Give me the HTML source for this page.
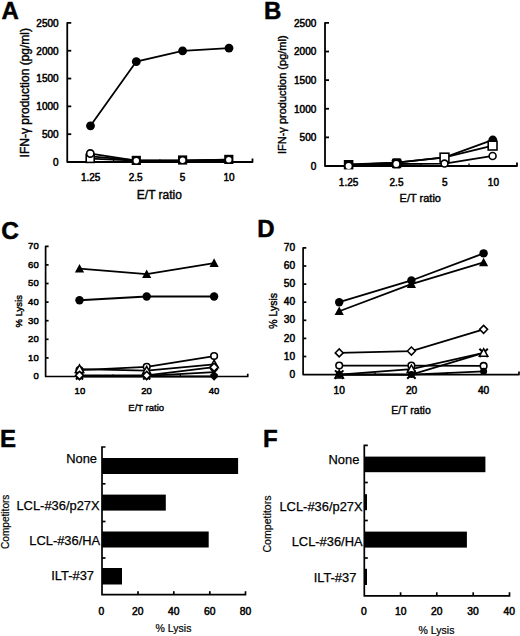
<!DOCTYPE html>
<html><head><meta charset="utf-8"><style>
html,body{margin:0;padding:0;background:#fff;}
body{width:520px;height:636px;overflow:hidden;}
svg{display:block;font-family:"Liberation Sans", sans-serif;}
</style></head><body>
<svg width="520" height="636" viewBox="0 0 520 636">
<rect width="520" height="636" fill="#fff"/>
<g stroke="#000" fill="#000" stroke-linecap="butt" stroke-linejoin="round">
<path d="M71.25,22.90H67.25V162.00H252.50V158.50" fill="none" stroke-width="1.8"/>
<text x="58.60" y="165.90" font-size="10" text-anchor="end" stroke="#000" stroke-width="0.5">0</text>
<line x1="67.25" y1="134.18" x2="71.25" y2="134.18" stroke-width="1.8"/>
<text x="58.60" y="138.08" font-size="10" text-anchor="end" stroke="#000" stroke-width="0.5">500</text>
<line x1="67.25" y1="106.36" x2="71.25" y2="106.36" stroke-width="1.8"/>
<text x="58.60" y="110.26" font-size="10" text-anchor="end" stroke="#000" stroke-width="0.5">1000</text>
<line x1="67.25" y1="78.54" x2="71.25" y2="78.54" stroke-width="1.8"/>
<text x="58.60" y="82.44" font-size="10" text-anchor="end" stroke="#000" stroke-width="0.5">1500</text>
<line x1="67.25" y1="50.72" x2="71.25" y2="50.72" stroke-width="1.8"/>
<text x="58.60" y="54.62" font-size="10" text-anchor="end" stroke="#000" stroke-width="0.5">2000</text>
<text x="58.60" y="26.80" font-size="10" text-anchor="end" stroke="#000" stroke-width="0.5">2500</text>
<line x1="113.56" y1="162.00" x2="113.56" y2="159.38" stroke-width="1.3"/>
<line x1="159.88" y1="162.00" x2="159.88" y2="159.38" stroke-width="1.3"/>
<line x1="206.19" y1="162.00" x2="206.19" y2="159.38" stroke-width="1.3"/>
<text x="90.70" y="181.30" font-size="10" text-anchor="middle" stroke="#000" stroke-width="0.5">1.25</text>
<text x="135.60" y="181.30" font-size="10" text-anchor="middle" stroke="#000" stroke-width="0.5">2.5</text>
<text x="182.60" y="181.30" font-size="10" text-anchor="middle" stroke="#000" stroke-width="0.5">5</text>
<text x="229.10" y="181.30" font-size="10" text-anchor="middle" stroke="#000" stroke-width="0.5">10</text>
<text x="159.40" y="198.50" font-size="12" text-anchor="middle" stroke="#000" stroke-width="0.4">E/T ratio</text>
<text x="28.60" y="92.70" font-size="12" text-anchor="middle" transform="rotate(-90 28.60 92.70)" stroke="#000" stroke-width="0.4">IFN-γ production (pg/ml)</text>
<text x="1.50" y="18.60" font-size="24" text-anchor="start" font-weight="bold" stroke="#000" stroke-width="0.5">A</text>
<path d="M329.00,22.90H325.00V166.00H517.00V162.50" fill="none" stroke-width="1.8"/>
<text x="316.30" y="169.80" font-size="10" text-anchor="end" stroke="#000" stroke-width="0.5">0</text>
<line x1="325.00" y1="137.38" x2="329.00" y2="137.38" stroke-width="1.8"/>
<text x="316.30" y="141.18" font-size="10" text-anchor="end" stroke="#000" stroke-width="0.5">500</text>
<line x1="325.00" y1="108.76" x2="329.00" y2="108.76" stroke-width="1.8"/>
<text x="316.30" y="112.56" font-size="10" text-anchor="end" stroke="#000" stroke-width="0.5">1000</text>
<line x1="325.00" y1="80.14" x2="329.00" y2="80.14" stroke-width="1.8"/>
<text x="316.30" y="83.94" font-size="10" text-anchor="end" stroke="#000" stroke-width="0.5">1500</text>
<line x1="325.00" y1="51.52" x2="329.00" y2="51.52" stroke-width="1.8"/>
<text x="316.30" y="55.32" font-size="10" text-anchor="end" stroke="#000" stroke-width="0.5">2000</text>
<text x="316.30" y="26.70" font-size="10" text-anchor="end" stroke="#000" stroke-width="0.5">2500</text>
<line x1="373.00" y1="166.00" x2="373.00" y2="163.38" stroke-width="1.3"/>
<line x1="421.00" y1="166.00" x2="421.00" y2="163.38" stroke-width="1.3"/>
<line x1="469.00" y1="166.00" x2="469.00" y2="163.38" stroke-width="1.3"/>
<text x="348.60" y="185.50" font-size="10" text-anchor="middle" stroke="#000" stroke-width="0.5">1.25</text>
<text x="396.50" y="185.50" font-size="10" text-anchor="middle" stroke="#000" stroke-width="0.5">2.5</text>
<text x="444.90" y="185.50" font-size="10" text-anchor="middle" stroke="#000" stroke-width="0.5">5</text>
<text x="493.40" y="185.50" font-size="10" text-anchor="middle" stroke="#000" stroke-width="0.5">10</text>
<text x="420.30" y="202.40" font-size="11" text-anchor="middle" stroke="#000" stroke-width="0.4">E/T ratio</text>
<text x="285.70" y="94.70" font-size="11" text-anchor="middle" transform="rotate(-90 285.70 94.70)" stroke="#000" stroke-width="0.4">IFN-γ production (pg/ml)</text>
<text x="264.00" y="18.60" font-size="24" text-anchor="start" font-weight="bold" stroke="#000" stroke-width="0.5">B</text>
<path d="M48.60,246.30H45.60V376.50H247.75V373.70" fill="none" stroke-width="1.7"/>
<text x="38.70" y="379.30" font-size="9.5" text-anchor="end" stroke="#000" stroke-width="0.5">0</text>
<line x1="45.60" y1="357.90" x2="48.60" y2="357.90" stroke-width="1.7"/>
<text x="38.70" y="360.70" font-size="9.5" text-anchor="end" stroke="#000" stroke-width="0.5">10</text>
<line x1="45.60" y1="339.30" x2="48.60" y2="339.30" stroke-width="1.7"/>
<text x="38.70" y="342.10" font-size="9.5" text-anchor="end" stroke="#000" stroke-width="0.5">20</text>
<line x1="45.60" y1="320.70" x2="48.60" y2="320.70" stroke-width="1.7"/>
<text x="38.70" y="323.50" font-size="9.5" text-anchor="end" stroke="#000" stroke-width="0.5">30</text>
<line x1="45.60" y1="302.10" x2="48.60" y2="302.10" stroke-width="1.7"/>
<text x="38.70" y="304.90" font-size="9.5" text-anchor="end" stroke="#000" stroke-width="0.5">40</text>
<line x1="45.60" y1="283.50" x2="48.60" y2="283.50" stroke-width="1.7"/>
<text x="38.70" y="286.30" font-size="9.5" text-anchor="end" stroke="#000" stroke-width="0.5">50</text>
<line x1="45.60" y1="264.90" x2="48.60" y2="264.90" stroke-width="1.7"/>
<text x="38.70" y="267.70" font-size="9.5" text-anchor="end" stroke="#000" stroke-width="0.5">60</text>
<text x="38.70" y="249.10" font-size="9.5" text-anchor="end" stroke="#000" stroke-width="0.5">70</text>
<line x1="112.98" y1="376.50" x2="112.98" y2="374.40" stroke-width="1.3"/>
<line x1="180.37" y1="376.50" x2="180.37" y2="374.40" stroke-width="1.3"/>
<text x="79.90" y="393.60" font-size="9.5" text-anchor="middle" stroke="#000" stroke-width="0.5">10</text>
<text x="146.50" y="393.60" font-size="9.5" text-anchor="middle" stroke="#000" stroke-width="0.5">20</text>
<text x="214.00" y="393.60" font-size="9.5" text-anchor="middle" stroke="#000" stroke-width="0.5">40</text>
<text x="146.20" y="410.70" font-size="9.5" text-anchor="middle" stroke="#000" stroke-width="0.4">E/T ratio</text>
<text x="21.80" y="311.20" font-size="9.5" text-anchor="middle" transform="rotate(-90 21.80 311.20)" stroke="#000" stroke-width="0.4">% Lysis</text>
<text x="1.20" y="238.80" font-size="24.5" text-anchor="start" font-weight="bold" stroke="#000" stroke-width="0.5">C</text>
<path d="M306.30,247.90H303.10V374.60H519.00V371.60" fill="none" stroke-width="1.7"/>
<text x="295.20" y="377.70" font-size="10.2" text-anchor="end" stroke="#000" stroke-width="0.5">0</text>
<line x1="303.10" y1="356.50" x2="306.30" y2="356.50" stroke-width="1.7"/>
<text x="295.20" y="359.60" font-size="10.2" text-anchor="end" stroke="#000" stroke-width="0.5">10</text>
<line x1="303.10" y1="338.40" x2="306.30" y2="338.40" stroke-width="1.7"/>
<text x="295.20" y="341.50" font-size="10.2" text-anchor="end" stroke="#000" stroke-width="0.5">20</text>
<line x1="303.10" y1="320.30" x2="306.30" y2="320.30" stroke-width="1.7"/>
<text x="295.20" y="323.40" font-size="10.2" text-anchor="end" stroke="#000" stroke-width="0.5">30</text>
<line x1="303.10" y1="302.20" x2="306.30" y2="302.20" stroke-width="1.7"/>
<text x="295.20" y="305.30" font-size="10.2" text-anchor="end" stroke="#000" stroke-width="0.5">40</text>
<line x1="303.10" y1="284.10" x2="306.30" y2="284.10" stroke-width="1.7"/>
<text x="295.20" y="287.20" font-size="10.2" text-anchor="end" stroke="#000" stroke-width="0.5">50</text>
<line x1="303.10" y1="266.00" x2="306.30" y2="266.00" stroke-width="1.7"/>
<text x="295.20" y="269.10" font-size="10.2" text-anchor="end" stroke="#000" stroke-width="0.5">60</text>
<text x="295.20" y="251.00" font-size="10.2" text-anchor="end" stroke="#000" stroke-width="0.5">70</text>
<line x1="375.07" y1="374.60" x2="375.07" y2="372.35" stroke-width="1.3"/>
<line x1="447.03" y1="374.60" x2="447.03" y2="372.35" stroke-width="1.3"/>
<text x="339.20" y="394.40" font-size="10.2" text-anchor="middle" stroke="#000" stroke-width="0.5">10</text>
<text x="411.60" y="394.40" font-size="10.2" text-anchor="middle" stroke="#000" stroke-width="0.5">20</text>
<text x="483.60" y="394.40" font-size="10.2" text-anchor="middle" stroke="#000" stroke-width="0.5">40</text>
<text x="411.00" y="413.50" font-size="10.5" text-anchor="middle" stroke="#000" stroke-width="0.4">E/T ratio</text>
<text x="277.40" y="310.90" font-size="10.5" text-anchor="middle" transform="rotate(-90 277.40 310.90)" stroke="#000" stroke-width="0.4">% Lysis</text>
<text x="257.30" y="237.30" font-size="24" text-anchor="start" font-weight="bold" stroke="#000" stroke-width="0.5">D</text>
</g>
<g stroke="#000" fill="none">
<polyline points="90.50,156.44 136.30,160.33 182.60,160.33 229.00,159.77" fill="none" stroke-width="1.8"/>
</g>
<g stroke="#000" fill="none">
<polyline points="90.50,158.66 136.30,160.61 182.60,160.61 229.00,159.77" fill="none" stroke-width="1.8"/>
</g>
<g stroke="#000" fill="none">
<polyline points="90.50,153.65 136.30,160.61 182.60,160.89 229.00,160.33" fill="none" stroke-width="1.8"/>
</g>
<g stroke="#000">
<rect x="86.20" y="154.40" width="8.00" height="8.00" fill="#fff" stroke-width="1.6"/>
<circle cx="90.30" cy="153.50" r="3.63" fill="#fff" stroke-width="1.6"/>
<rect x="131.70" y="155.80" width="9.20" height="9.20" fill="#000" stroke="none"/>
<circle cx="136.30" cy="160.70" r="2.70" fill="#fff" stroke="none"/>
<rect x="178.00" y="155.40" width="9.20" height="9.20" fill="#000" stroke="none"/>
<circle cx="182.60" cy="160.30" r="2.70" fill="#fff" stroke="none"/>
<rect x="224.20" y="154.80" width="9.20" height="9.20" fill="#000" stroke="none"/>
<circle cx="228.80" cy="159.70" r="2.70" fill="#fff" stroke="none"/>
</g>
<g stroke="#000" fill="none">
<polyline points="90.50,125.83 136.30,61.57 182.60,50.83 229.00,48.05" fill="none" stroke-width="1.8"/>
</g>
<g stroke="#000">
<circle cx="90.50" cy="125.83" r="4.41" fill="#000" stroke="none"/>
<circle cx="136.30" cy="61.57" r="4.41" fill="#000" stroke="none"/>
<circle cx="182.60" cy="50.83" r="4.41" fill="#000" stroke="none"/>
<circle cx="229.00" cy="48.05" r="4.41" fill="#000" stroke="none"/>
</g>
<g stroke="#000" fill="none">
<polyline points="348.80,164.86 396.60,162.57 444.70,157.41 492.80,139.96" fill="none" stroke-width="1.8"/>
</g>
<g stroke="#000" fill="none">
<polyline points="348.80,164.28 396.60,162.57 444.70,157.41 492.80,145.57" fill="none" stroke-width="1.8"/>
</g>
<g stroke="#000" fill="none">
<polyline points="348.80,165.71 396.60,164.00 444.70,163.71 492.80,155.98" fill="none" stroke-width="1.8"/>
</g>
<g stroke="#000">
<rect x="343.8" y="160.0" width="9.6" height="9.4" fill="#000" stroke="none"/>
<circle cx="348.6" cy="166.0" r="3.0" fill="#fff" stroke="none"/>
<rect x="391.7" y="158.2" width="9.9" height="10.2" rx="2" fill="#000" stroke="none"/>
<circle cx="396.3" cy="164.0" r="2.9" fill="#fff" stroke="none"/>
<circle cx="444.60" cy="157.60" r="4.20" fill="#000" stroke="none"/>
<rect x="440.10" y="153.20" width="8.80" height="8.80" fill="#fff" stroke-width="1.6"/>
<circle cx="444.50" cy="163.60" r="3.46" fill="#fff" stroke-width="1.6"/>
<circle cx="492.80" cy="140.00" r="4.41" fill="#000" stroke="none"/>
<rect x="488.20" y="141.20" width="8.80" height="8.80" fill="#fff" stroke-width="1.6"/>
<circle cx="492.60" cy="156.00" r="3.46" fill="#fff" stroke-width="1.6"/>
</g>
<g stroke="#000" fill="none">
<polyline points="79.50,370.18 146.70,366.83 214.10,356.04" fill="none" stroke-width="1.8"/>
</g>
<g stroke="#000" fill="none">
<polyline points="79.50,369.06 146.70,370.55 214.10,364.41" fill="none" stroke-width="1.8"/>
</g>
<g stroke="#000" fill="none">
<polyline points="79.50,376.50 146.70,376.50 214.10,376.50" fill="none" stroke-width="1.8"/>
</g>
<g stroke="#000" fill="none">
<polyline points="79.50,375.94 146.70,375.94 214.10,372.22" fill="none" stroke-width="1.8"/>
</g>
<g stroke="#000" fill="none">
<polyline points="79.50,375.38 146.70,375.38 214.10,367.20" fill="none" stroke-width="1.8"/>
</g>
<g stroke="#000" fill="none">
<polyline points="79.50,300.24 146.70,296.52 214.10,296.52" fill="none" stroke-width="1.8"/>
</g>
<g stroke="#000" fill="none">
<polyline points="79.50,268.62 146.70,274.20 214.10,263.04" fill="none" stroke-width="1.8"/>
</g>
<g stroke="#000">
<circle cx="79.50" cy="370.18" r="3.30" fill="#fff" stroke-width="1.6"/>
<circle cx="146.70" cy="366.83" r="3.30" fill="#fff" stroke-width="1.6"/>
<circle cx="214.10" cy="356.04" r="3.30" fill="#fff" stroke-width="1.6"/>
</g>
<g stroke="#000">
<polygon points="79.50,364.88 83.70,372.48 75.30,372.48" fill="#fff" stroke-width="1.5"/>
<polygon points="146.70,366.37 150.90,373.97 142.50,373.97" fill="#fff" stroke-width="1.5"/>
<polygon points="214.10,360.23 218.30,367.83 209.90,367.83" fill="#fff" stroke-width="1.5"/>
</g>
<g stroke="#000">
<polygon points="79.50,372.30 83.70,376.50 79.50,380.70 75.30,376.50" fill="#000" stroke="none"/>
<polygon points="146.70,372.30 150.90,376.50 146.70,380.70 142.50,376.50" fill="#000" stroke="none"/>
<polygon points="214.10,372.30 218.30,376.50 214.10,380.70 209.90,376.50" fill="#000" stroke="none"/>
</g>
<g stroke="#000">
<path d="M76.00,372.44L83.00,379.44M83.00,372.44L76.00,379.44" stroke-width="2"/>
<path d="M143.20,372.44L150.20,379.44M150.20,372.44L143.20,379.44" stroke-width="2"/>
<path d="M210.60,368.72L217.60,375.72M217.60,368.72L210.60,375.72" stroke-width="2"/>
</g>
<g stroke="#000">
<polygon points="79.50,371.38 83.50,375.38 79.50,379.38 75.50,375.38" fill="#fff" stroke-width="1.5"/>
<polygon points="146.70,371.38 150.70,375.38 146.70,379.38 142.70,375.38" fill="#fff" stroke-width="1.5"/>
<polygon points="214.10,363.20 218.10,367.20 214.10,371.20 210.10,367.20" fill="#fff" stroke-width="1.5"/>
</g>
<g stroke="#000">
<circle cx="79.50" cy="300.24" r="4.20" fill="#000" stroke="none"/>
<circle cx="146.70" cy="296.52" r="4.20" fill="#000" stroke="none"/>
<circle cx="214.10" cy="296.52" r="4.20" fill="#000" stroke="none"/>
</g>
<g stroke="#000">
<polygon points="79.50,263.89 84.10,272.49 74.90,272.49" fill="#000" stroke="none"/>
<polygon points="146.70,269.47 151.30,278.07 142.10,278.07" fill="#000" stroke="none"/>
<polygon points="214.10,258.31 218.70,266.91 209.50,266.91" fill="#000" stroke="none"/>
</g>
<g stroke="#000" fill="none">
<polyline points="339.20,365.55 411.40,365.55 483.60,365.91" fill="none" stroke-width="1.8"/>
</g>
<g stroke="#000" fill="none">
<polyline points="339.20,374.60 411.40,374.60 483.60,352.88" fill="none" stroke-width="1.8"/>
</g>
<g stroke="#000" fill="none">
<polyline points="339.20,374.60 411.40,369.17 483.60,352.88" fill="none" stroke-width="1.8"/>
</g>
<g stroke="#000" fill="none">
<polyline points="339.20,374.60 411.40,374.60 483.60,371.34" fill="none" stroke-width="1.8"/>
</g>
<g stroke="#000" fill="none">
<polyline points="339.20,352.88 411.40,351.07 483.60,329.35" fill="none" stroke-width="1.8"/>
</g>
<g stroke="#000" fill="none">
<polyline points="339.20,311.25 411.40,284.10 483.60,262.38" fill="none" stroke-width="1.8"/>
</g>
<g stroke="#000" fill="none">
<polyline points="339.20,302.20 411.40,280.48 483.60,253.33" fill="none" stroke-width="1.8"/>
</g>
<g stroke="#000">
<circle cx="339.20" cy="365.55" r="3.30" fill="#fff" stroke-width="1.6"/>
<circle cx="411.40" cy="365.55" r="3.30" fill="#fff" stroke-width="1.6"/>
<circle cx="483.60" cy="365.91" r="3.30" fill="#fff" stroke-width="1.6"/>
</g>
<g stroke="#000">
<path d="M335.00,370.40L343.40,378.80M343.40,370.40L335.00,378.80" stroke-width="2"/>
<path d="M407.20,370.40L415.60,378.80M415.60,370.40L407.20,378.80" stroke-width="2"/>
<path d="M479.40,348.68L487.80,357.08M487.80,348.68L479.40,357.08" stroke-width="2"/>
</g>
<g stroke="#000">
<polygon points="339.20,370.42 343.40,378.02 335.00,378.02" fill="#fff" stroke-width="1.5"/>
<polygon points="411.40,364.99 415.60,372.59 407.20,372.59" fill="#fff" stroke-width="1.5"/>
<polygon points="483.60,348.70 487.80,356.30 479.40,356.30" fill="#fff" stroke-width="1.5"/>
</g>
<g stroke="#000">
<circle cx="339.20" cy="374.60" r="3.50" fill="#000" stroke="none"/>
<circle cx="411.40" cy="374.60" r="3.50" fill="#000" stroke="none"/>
<circle cx="483.60" cy="371.34" r="3.50" fill="#000" stroke="none"/>
</g>
<g stroke="#000">
<polygon points="339.20,348.88 343.20,352.88 339.20,356.88 335.20,352.88" fill="#fff" stroke-width="1.5"/>
<polygon points="411.40,347.07 415.40,351.07 411.40,355.07 407.40,351.07" fill="#fff" stroke-width="1.5"/>
<polygon points="483.60,325.35 487.60,329.35 483.60,333.35 479.60,329.35" fill="#fff" stroke-width="1.5"/>
</g>
<g stroke="#000">
<polygon points="339.20,306.52 343.80,315.12 334.60,315.12" fill="#000" stroke="none"/>
<polygon points="411.40,279.37 416.00,287.97 406.80,287.97" fill="#000" stroke="none"/>
<polygon points="483.60,257.65 488.20,266.25 479.00,266.25" fill="#000" stroke="none"/>
</g>
<g stroke="#000">
<circle cx="339.20" cy="302.20" r="4.20" fill="#000" stroke="none"/>
<circle cx="411.40" cy="280.48" r="4.20" fill="#000" stroke="none"/>
<circle cx="483.60" cy="253.33" r="4.20" fill="#000" stroke="none"/>
</g>
<g stroke="#000" fill="#000">
<path d="M105.50,447.00H102.00V594.70H245.50V591.20" fill="none" stroke-width="1.7"/>
<line x1="102.00" y1="483.80" x2="105.50" y2="483.80" stroke-width="1.7"/>
<line x1="102.00" y1="521.50" x2="105.50" y2="521.50" stroke-width="1.7"/>
<line x1="102.00" y1="558.00" x2="105.50" y2="558.00" stroke-width="1.7"/>
<line x1="138.00" y1="594.70" x2="138.00" y2="591.20" stroke-width="1.7"/>
<line x1="173.80" y1="594.70" x2="173.80" y2="591.20" stroke-width="1.7"/>
<line x1="209.80" y1="594.70" x2="209.80" y2="591.20" stroke-width="1.7"/>
<rect x="102.00" y="458.00" width="136.10" height="16.00" stroke="none"/>
<rect x="102.00" y="494.60" width="63.80" height="16.00" stroke="none"/>
<rect x="102.00" y="531.50" width="106.70" height="16.00" stroke="none"/>
<rect x="102.00" y="568.00" width="20.00" height="16.50" stroke="none"/>
<text x="97.00" y="463.30" font-size="12.9" text-anchor="end" stroke="#000" stroke-width="0.25">None</text>
<text x="99.60" y="509.50" font-size="12.9" text-anchor="end" stroke="#000" stroke-width="0.25">LCL-#36/p27X</text>
<text x="100.20" y="544.60" font-size="12.9" text-anchor="end" stroke="#000" stroke-width="0.25">LCL-#36/HA</text>
<text x="94.00" y="580.20" font-size="12.9" text-anchor="end" stroke="#000" stroke-width="0.25">ILT-#37</text>
<text x="101.40" y="614.60" font-size="10.3" text-anchor="middle" stroke="#000" stroke-width="0.5">0</text>
<text x="137.70" y="614.60" font-size="10.3" text-anchor="middle" stroke="#000" stroke-width="0.5">20</text>
<text x="173.80" y="614.60" font-size="10.3" text-anchor="middle" stroke="#000" stroke-width="0.5">40</text>
<text x="209.80" y="614.60" font-size="10.3" text-anchor="middle" stroke="#000" stroke-width="0.5">60</text>
<text x="245.60" y="614.60" font-size="10.3" text-anchor="middle" stroke="#000" stroke-width="0.5">80</text>
<text x="173.50" y="632.20" font-size="10.5" text-anchor="middle" stroke="#000" stroke-width="0.2">% Lysis</text>
<text x="9.00" y="521.80" font-size="10.1" text-anchor="middle" transform="rotate(-90 9.00 521.80)" stroke="#000" stroke-width="0.2">Competitors</text>
<text x="0.00" y="447.00" font-size="24" text-anchor="start" font-weight="bold" stroke="#000" stroke-width="0.5">E</text>
</g>
<g stroke="#000" fill="#000">
<path d="M367.80,445.40H364.30V595.80H509.50V592.30" fill="none" stroke-width="1.7"/>
<line x1="364.30" y1="482.50" x2="367.80" y2="482.50" stroke-width="1.7"/>
<line x1="364.30" y1="520.50" x2="367.80" y2="520.50" stroke-width="1.7"/>
<line x1="364.30" y1="558.00" x2="367.80" y2="558.00" stroke-width="1.7"/>
<line x1="400.60" y1="595.80" x2="400.60" y2="592.30" stroke-width="1.7"/>
<line x1="436.80" y1="595.80" x2="436.80" y2="592.30" stroke-width="1.7"/>
<line x1="473.20" y1="595.80" x2="473.20" y2="592.30" stroke-width="1.7"/>
<rect x="364.30" y="456.60" width="121.10" height="15.60" stroke="none"/>
<rect x="364.30" y="494.20" width="2.70" height="16.00" stroke="none"/>
<rect x="364.30" y="531.60" width="102.60" height="16.00" stroke="none"/>
<rect x="364.30" y="568.80" width="2.70" height="16.20" stroke="none"/>
<text x="359.40" y="463.90" font-size="12.9" text-anchor="end" stroke="#000" stroke-width="0.25">None</text>
<text x="362.60" y="511.30" font-size="12.9" text-anchor="end" stroke="#000" stroke-width="0.25">LCL-#36/p27X</text>
<text x="362.60" y="545.60" font-size="12.9" text-anchor="end" stroke="#000" stroke-width="0.25">LCL-#36/HA</text>
<text x="356.40" y="582.10" font-size="12.9" text-anchor="end" stroke="#000" stroke-width="0.25">ILT-#37</text>
<text x="363.80" y="615.20" font-size="10.3" text-anchor="middle" stroke="#000" stroke-width="0.5">0</text>
<text x="400.70" y="615.20" font-size="10.3" text-anchor="middle" stroke="#000" stroke-width="0.5">10</text>
<text x="436.80" y="615.20" font-size="10.3" text-anchor="middle" stroke="#000" stroke-width="0.5">20</text>
<text x="473.10" y="615.20" font-size="10.3" text-anchor="middle" stroke="#000" stroke-width="0.5">30</text>
<text x="509.20" y="615.20" font-size="10.3" text-anchor="middle" stroke="#000" stroke-width="0.5">40</text>
<text x="436.50" y="633.70" font-size="10.5" text-anchor="middle" stroke="#000" stroke-width="0.2">% Lysis</text>
<text x="270.80" y="524.00" font-size="10.6" text-anchor="middle" transform="rotate(-90 270.80 524.00)" stroke="#000" stroke-width="0.2">Competitors</text>
<text x="263.00" y="447.30" font-size="24" text-anchor="start" font-weight="bold" stroke="#000" stroke-width="0.5">F</text>
</g>
</svg>
</body></html>
